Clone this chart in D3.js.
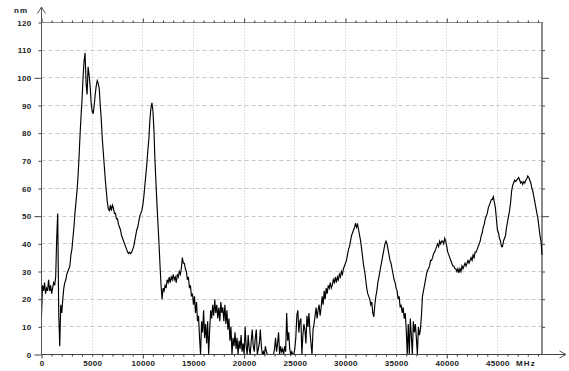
<!DOCTYPE html>
<html>
<head>
<meta charset="utf-8">
<script src="https://cdn.jsdelivr.net/npm/d3@7"></script>
<style>
  body { margin: 0; background: #fff; }
  svg { display: block; }
  text { font-family: "Liberation Sans", Arial, sans-serif; font-size: 8px; font-weight: bold; fill: #222; }
</style>
</head>
<body>
<svg id="chart" width="569" height="371"></svg>
<script>
// Spectrum sampled every 100 MHz from 0 MHz; values in nm, one array per 5 GHz band.
const stepMHz = 100;
const band0 = [14,25,23,26,22,24,23,27,23,25, 22,24,26,25,28,42,51,15,3,18,
               15,20,24,26,27,29,30,31,32,36, 38,42,46,51,55,59,64,71,79,86,
               92,100,106,109,98,94,104,101,97,91];
const band1 = [88,87,90,94,97,99,98,96,90,85, 78,73,68,63,59,55,52.5,52,54,52,
               54,53,51,51,49,49,47,46,45,43, 42,41,40,39,38,37,36.5,37,36.5,37,
               38,39,41,43,45,46,48,50,51,52];
const band2 = [54,57,61,65,69,74,78,85,89,91, 88,81,70,62,54,47,40,32,25,20,
               24,23,25,24,27,26,28,26,28,27, 29,27,28,26,29,28,30,29,31,35,
               33,33,31,30,27,28,24,25,21,22];
const band3 = [18,21,15,19,12,14,6,0,12,8, 16,6,11,4,12,0,9,16,13,18,
               14,20,15,18,13,17,12,19,15,17, 12,18,11,16,9,13,5,10,0,6,
               3,8,2,6,0,5,2,7,1,4];
const band4 = [0,10,3,0,7,2,0,5,9,3, 1,6,9,0,2,4,9,3,0,1,
               0,3,1,0,0,0,0,0,0,0, 2,6,1,4,8,0,3,1,2,0,
               3,1,15,5,8,2,0,1,0,0];
const band5 = [2,6,14,16,8,12,13,0,7,11, 9,4,14,10,15,8,4,0,9,11,
               14,17,13,16,18,14,17,21,18,23, 20,24,22,25,24,26,24,25,27,26,
               28,26,28,27,29,28,30,29,31,32];
const band6 = [33,34,36,38,39,41,43,44,45,46, 47.5,46,47,45,43,41,38,35,32,30,
               27,24,22,21,20,18,19,15,13.6,18, 21,23,26,28,30,32,34,36,38,40,
               41,40,38,36,34,33,31,29,27,26];
const band7 = [24,23,20,21,17,18,15,17,13,15, 9,0,11,0,13,7,0,12,8,11,
               6,0,10,7,9,14,21,23,25,27, 29,30.5,31,32,34,34,35,36.5,37,38,
               39,40,39,41,40,41,41,40,42,41];
const band8 = [39,37,36,35,34,33,32,32,31,31, 30,31,29.5,31,30,32,31,32,33,32,
               33,34,33,34,35,34,36,35,37,37, 38,39,40,41,43,44,46,47,49,50,
               51,53,54,55,56,56,57,55,53,49];
const band9 = [45,44,42,41,39,39,41,42,43,46, 48,50,52,55,59,61,62,63,62.5,63,
               63.5,64,63,62,62.5,61.5,62.5,62,63,63.5, 64.5,64,63,62,60,59,57,55,53,51,
               49,46,43,41,36];

const xTickLabels = [0,5000,10000,15000,20000,25000,30000,35000,40000,45000];
const yTickLabels = [0,10,20,30,40,50,60,70,80,90,100,110,120];
const xUnit = "MHz";
const yUnit = "nm";
const xMax = 49400;

const values = [].concat(band0, band1, band2, band3, band4, band5, band6, band7, band8, band9);

const svg = d3.select("#chart");
const plotL = 41.5, plotR = 542, plotT = 22.5, plotB = 354.5;

const x = d3.scaleLinear().domain([0, xMax]).range([plotL, plotR]);
const y = d3.scaleLinear().domain([0, 120]).range([plotB, plotT]);
const crisp = v => Math.round(v - 0.5) + 0.5;

// grid
const grid = svg.append("g");
grid.selectAll("line.v").data(xTickLabels.filter(d => d > 0)).join("line")
  .attr("x1", d => crisp(x(d))).attr("x2", d => crisp(x(d)))
  .attr("y1", plotT).attr("y2", plotB)
  .attr("stroke", "#c4c4c4").attr("stroke-dasharray", "1,2");
grid.selectAll("line.h").data(yTickLabels.filter(d => d > 0 && d < 120)).join("line")
  .attr("x1", plotL).attr("x2", plotR)
  .attr("y1", d => crisp(y(d))).attr("y2", d => crisp(y(d)))
  .attr("stroke", "#c8c8c8").attr("stroke-dasharray", "4,3");

// frame: top and right edges
svg.append("line").attr("x1", plotL).attr("x2", plotR + 1).attr("y1", plotT).attr("y2", plotT)
  .attr("stroke", "#8a8a8a");
svg.append("line").attr("x1", plotR).attr("x2", plotR).attr("y1", plotT).attr("y2", plotB)
  .attr("stroke", "#666").attr("stroke-width", 1.5);

// minor / major ticks along the x edges
const xMinor = d3.range(0, xMax + 1, 1000);
function styleTicks(g, majorLen) {
  g.select(".domain").remove();
  g.selectAll(".tick line")
    .attr("stroke", "#333")
    .attr("y2", function(d) {
      const cur = +d3.select(this).attr("y2");
      const sign = cur < 0 ? -1 : 1;
      return (d % 10000 === 0) ? sign * majorLen : cur;
    });
}
svg.append("g").attr("transform", `translate(0,${plotT})`)
  .call(d3.axisTop(x).tickValues(xMinor).tickFormat("").tickSize(2).tickSizeOuter(0))
  .call(g => styleTicks(g, 4));
svg.append("g").attr("transform", `translate(0,${plotB})`)
  .call(d3.axisBottom(x).tickValues(xMinor).tickFormat("").tickSize(2).tickSizeOuter(0))
  .call(g => styleTicks(g, 4));

// x labels
svg.append("g").attr("transform", `translate(0,${plotB})`)
  .call(d3.axisBottom(x).tickValues(xTickLabels).tickSize(0).tickPadding(6).tickFormat(d3.format("d")))
  .call(g => g.select(".domain").remove())
  .call(g => g.selectAll("text").attr("fill", "#222").style("letter-spacing", "0.3px"));

// y ticks and labels (left), ticks (right)
function yTickStyle(g, isLeft) {
  g.select(".domain").remove();
  g.selectAll(".tick line").attr("stroke", "#444")
    .attr("x2", d => (d % 50 === 0 ? 7 : 3) * (isLeft ? -1 : 1));
}
svg.append("g").attr("transform", `translate(${plotL},0)`)
  .call(d3.axisLeft(y).tickValues(yTickLabels).tickSize(3).tickSizeOuter(0))
  .call(g => yTickStyle(g, true))
  .call(g => g.selectAll("text").attr("x", -10).attr("fill", "#222").style("letter-spacing", "0.3px"));
svg.append("g").attr("transform", `translate(${plotR},0)`)
  .call(d3.axisRight(y).tickValues(yTickLabels.filter(d => d > 0 && d < 120)).tickFormat("").tickSize(3).tickSizeOuter(0))
  .call(g => yTickStyle(g, false));
svg.selectAll("g").attr("font-family", null).attr("font-size", null);

// spectrum trace
const line = d3.line().x((d, i) => x(i * stepMHz)).y(d => y(d));
svg.append("path").datum(values)
  .attr("d", line).attr("fill", "none")
  .attr("stroke", "#000").attr("stroke-width", 1.15).attr("stroke-linejoin", "miter");

// axis lines with arrow heads
svg.append("line").attr("x1", plotL).attr("x2", plotL).attr("y1", plotB).attr("y2", 7)
  .attr("stroke", "#555");
svg.append("path").attr("d", `M${plotL - 4},13.5L${plotL},7L${plotL + 4},13.5`)
  .attr("fill", "none").attr("stroke", "#555");
svg.append("line").attr("x1", plotL).attr("x2", 566).attr("y1", plotB).attr("y2", plotB)
  .attr("stroke", "#444");
svg.append("path").attr("d", `M559.5,${plotB - 3.5}L566,${plotB}L559.5,${plotB + 3.5}`)
  .attr("fill", "none").attr("stroke", "#555");

// unit labels
svg.append("text").attr("x", 28).attr("y", 12.5).attr("text-anchor", "end")
  .style("letter-spacing", "1px").text(yUnit);
svg.append("text").attr("x", 516).attr("y", 366.2)
  .style("letter-spacing", "1.2px").text(xUnit);
</script>
</body>
</html>
